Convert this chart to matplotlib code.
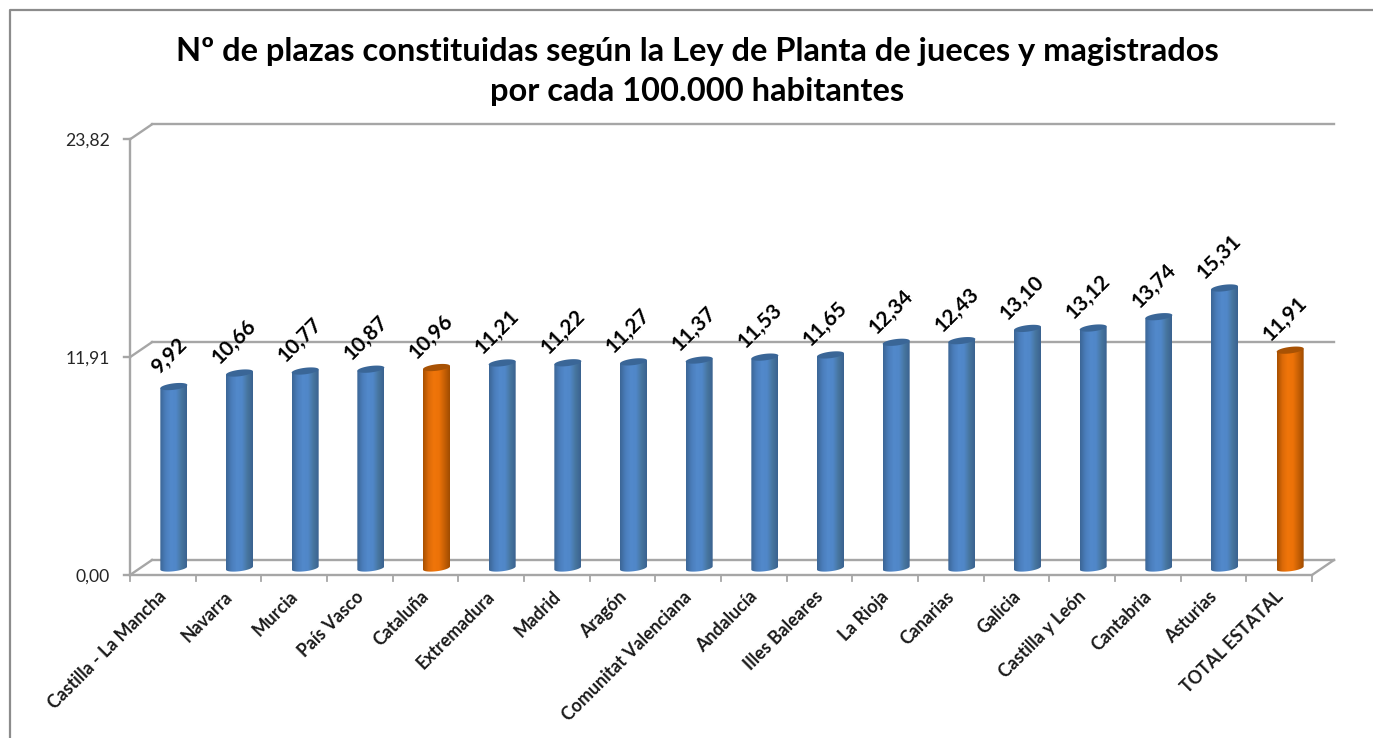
import numpy as np
import matplotlib
matplotlib.use("Agg")
import matplotlib.pyplot as plt
from matplotlib.colors import LinearSegmentedColormap
from matplotlib.patches import Polygon
from matplotlib.transforms import ScaledTranslation

plt.rcParams['font.family'] = ['Lato', 'DejaVu Sans']

categories = ["Castilla - La Mancha", "Navarra", "Murcia", "País Vasco", "Cataluña",
              "Extremadura", "Madrid", "Aragón", "Comunitat Valenciana", "Andalucía",
              "Illes Baleares", "La Rioja", "Canarias", "Galicia", "Castilla y León",
              "Cantabria", "Asturias", "TOTAL ESTATAL"]
values = [9.92, 10.66, 10.77, 10.87, 10.96, 11.21, 11.22, 11.27, 11.37, 11.53,
          11.65, 12.34, 12.43, 13.10, 13.12, 13.74, 15.31, 11.91]
highlight = ["Cataluña", "TOTAL ESTATAL"]
y_ticks = [0.0, 11.91, 23.82]
title_line1 = "Nº de plazas constituidas según la Ley de Planta de jueces y magistrados"
title_line2 = "por cada 100.000 habitantes"

W, H = 1373, 738
fig = plt.figure(figsize=(W / 100, H / 100), dpi=100, facecolor="white")

# Pixel overlay for the frame and 3D box
bg = fig.add_axes([0, 0, 1, 1], zorder=0)
bg.set_xlim(0, W); bg.set_ylim(H, 0); bg.axis("off")
GRID = "#a6a6a6"
FRAME = "#8c8c8c"
bg.plot([10, 10, 1373], [738, 10, 10], color=FRAME, lw=1.6, solid_capstyle="butt")

# Data axes lie on the mid-depth plane of the 3D box; ylim starts below zero
# so the rounded cylinder bases are not clipped
PXU = 18.29
YMIN = -1.0
L, R = 141.0, 1323.0
B, T = 568.0 - PXU * YMIN, 568.0 - PXU * 23.82
ax = fig.add_axes([L / W, 1 - B / H, (R - L) / W, (B - T) / H], zorder=2)
ax.axis("off")
ax.patch.set_alpha(0)
ax.set_xlim(-0.5, 17.5)
ax.set_ylim(YMIN, 23.82)

front = ax.transData + ScaledTranslation(-11 / 100, -7 / 100, fig.dpi_scale_trans)
back = ax.transData + ScaledTranslation(11 / 100, 8 / 100, fig.dpi_scale_trans)
lw = 1.7
for v in y_ticks:
    ax.plot([-0.5, 17.5], [v, v], transform=back, color=GRID, lw=lw, zorder=1, clip_on=False)
    x0 = front.transform((-0.5, v)); x1 = back.transform((-0.5, v))
    bg.plot([x0[0], x1[0]], [H - x0[1], H - x1[1]], color=GRID, lw=lw)
    bg.plot([x0[0] - 6, x0[0]], [H - x0[1], H - x0[1]], color=GRID, lw=lw)
    bg.text(x0[0] - 20, H - x0[1] + 1.5, f"{v:.2f}".replace(".", ","), ha="right", va="center",
            fontsize=12.6, color="#262626")
x0 = front.transform((-0.5, 0)); x1 = front.transform((-0.5, 23.82))
bg.plot([x0[0], x1[0]], [H - x0[1], H - x1[1]], color=GRID, lw=lw)
ax.plot([-0.5, 17.5], [0, 0], transform=front, color=GRID, lw=lw, zorder=1, clip_on=False)
a = front.transform((17.5, 0)); b = back.transform((17.5, 0))
bg.plot([a[0], b[0]], [H - a[1], H - b[1]], color=GRID, lw=lw)
for i in range(19):
    p = front.transform((i - 0.5, 0))
    bg.plot([p[0], p[0]], [H - p[1], H - p[1] + 6], color=GRID, lw=1.3)

# Cylinders
blue = LinearSegmentedColormap.from_list("b", ["#3c6696", "#4a7dbb", "#5289cb", "#5087c8", "#47769f", "#3a6290"])
orange = LinearSegmentedColormap.from_list("o", ["#a85000", "#dc6a08", "#f0750a", "#ec7208", "#c76005", "#a04c00"])
half = 13.5 / ((R - L) / 18)          # half-width in category units
ell_h = 6.5 / PXU                     # ellipse height in value units
shear = 1.6 / PXU                     # the ellipses lean up to the right
grad = np.linspace(0, 1, 64).reshape(1, -1)
t = np.linspace(0, 2 * np.pi, 80)
for i, (c, v) in enumerate(zip(categories, values)):
    hi = c in highlight
    cmap = orange if hi else blue
    top_c = "#a85204" if hi else "#3a6697"
    im = ax.imshow(grad, cmap=cmap, aspect="auto", extent=[i - half, i + half, -ell_h, v + ell_h],
                   zorder=3, interpolation="bilinear")
    lower = np.linspace(np.pi, 2 * np.pi, 40)
    base = np.column_stack([i + half * np.cos(lower),
                            ell_h / 2 * np.sin(lower) + shear * np.cos(lower)])
    body = np.vstack([[[i - half, v - shear]], base, [[i + half, v + shear]]])
    poly = Polygon(body, closed=True, transform=ax.transData, fc="none", ec="none")
    ax.add_patch(poly)
    im.set_clip_path(poly)
    cap = np.column_stack([i + half * np.cos(t), v + ell_h / 2 * np.sin(t) + shear * np.cos(t)])
    ax.add_patch(Polygon(cap, closed=True, fc=top_c, ec="none", zorder=4))
    ax.annotate(f"{v:.2f}".replace(".", ","), (i, v), xytext=(-5, 31), textcoords="offset pixels",
                rotation=45, ha="center", va="center", rotation_mode="anchor",
                fontsize=15, fontweight="bold", color="black", zorder=5, annotation_clip=False)
    p = front.transform((i, 0))
    bg.text(p[0] - 5, H - p[1] + 13, c, rotation=45, ha="right", va="top", rotation_mode="anchor",
            fontsize=12.8, fontweight="bold", color="#1a1a1a")

ax.set_xlim(-0.5, 17.5)
ax.set_ylim(YMIN, 23.82)

bg.text(697, 51.5, title_line1, ha="center", va="center", fontsize=23.5, fontweight="bold", color="black")
bg.text(697, 92, title_line2, ha="center", va="center", fontsize=23.5, fontweight="bold", color="black")

fig.savefig("out.png", dpi=100)
